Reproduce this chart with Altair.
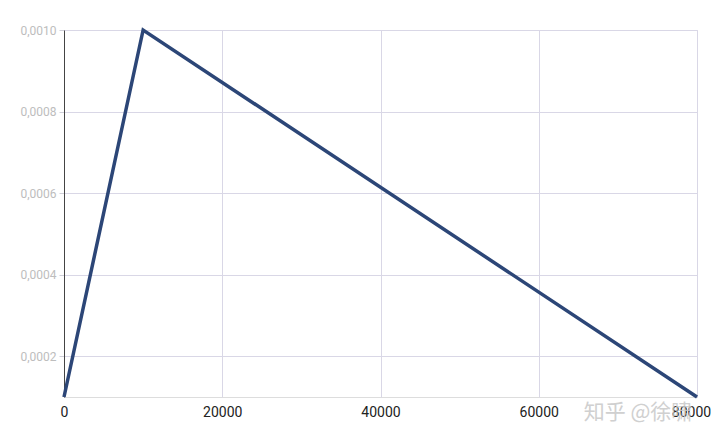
import altair as alt
import pandas as pd

steps = [0, 10000, 80000]
lr = [0.0001, 0.0010, 0.0001]
x_ticks = [0, 20000, 40000, 60000, 80000]
y_ticks = [0.0002, 0.0004, 0.0006, 0.0008, 0.0010]
watermark = "知乎 @徐啸"

df = pd.DataFrame({"step": steps, "lr": lr})

base = alt.Chart(df)

line = base.mark_line(color="#2c4677", strokeWidth=3.5, clip=False).encode(
    x=alt.X("step:Q", scale=alt.Scale(domain=[0, 80000], nice=False),
            axis=alt.Axis(values=x_ticks, title=None, format="d", domain=False,
                          ticks=False, labelColor="#222222", labelFontSize=14,
                          labelPadding=8, gridColor="#d9d7e6", labelFont="Roboto",
                          labelFlush=False,
                          labelOffset={"condition": {"test": "datum.value == 80000", "value": -6}, "value": 0})),
    y=alt.Y("lr:Q", scale=alt.Scale(domain=[0.0001, 0.0010], nice=False, zero=False),
            axis=alt.Axis(values=y_ticks, title=None, domainColor="#444444",
                          domainWidth=1, tickColor="#cfcfd8", tickSize=5,
                          labelColor="#bdbdbd", labelFontSize=12, labelPadding=3,
                          gridColor="#d9d7e6", labelFont="Roboto",
                          labelExpr="replace(format(datum.value, '.4f'), '.', ',')")),
)

wm = alt.Chart(pd.DataFrame({"t": [watermark]})).mark_text(
    font="Noto Sans CJK SC", fontSize=21, color="#c8c8c8", opacity=0.85,
    align="center", baseline="middle"
).encode(text="t:N", x=alt.value(574), y=alt.value(383))

chart = (line + wm).properties(
    width=633, height=367,
    autosize=alt.AutoSizeParams(type="none"),
    padding={"left": 56, "top": 22, "right": 15, "bottom": 30},
).configure_view(stroke=None).configure(background="white")

chart.save("out.html", embed_options={"renderer": "svg", "actions": False})
